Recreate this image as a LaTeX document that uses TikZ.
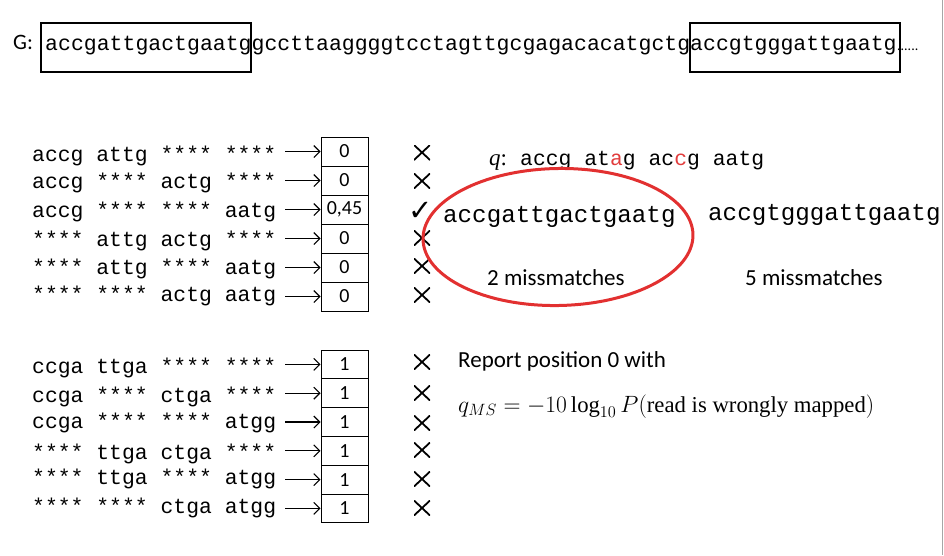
\documentclass[tikz,border=0pt]{standalone}
\usepackage{fontspec}
\usepackage{graphicx}
\setmainfont{Liberation Serif}
\setsansfont{Carlito}
\setmonofont{Liberation Mono}
\newfontfamily\symfont{DejaVu Sans}
\usetikzlibrary{arrows.meta,shapes.geometric}
\definecolor{ellred}{RGB}{226,48,48}
\definecolor{qred}{RGB}{225,60,60}
\tikzset{
  seq/.style={font=\fontsize{21.5pt}{24pt}\ttfamily, inner sep=0pt, anchor=base west},
  rowseq/.style={font=\fontsize{21.4pt}{24pt}\ttfamily, inner sep=0pt, anchor=base west},
  bigseq/.style={font=\fontsize{24.2pt}{26pt}\ttfamily, inner sep=0pt, anchor=base west},
  gbox/.style={draw, line width=1.6pt, minimum width=210pt, minimum height=49pt, inner sep=0pt},
  cell/.style={draw, line width=0.9pt, minimum width=47pt, inner sep=0pt, font=\fontsize{20pt}{22pt}\sffamily},
  arr/.style={-{Straight Barb[length=6pt,width=12pt]}, line width=1.1pt},
  xmark/.style={minimum width=16pt, minimum height=15pt, inner sep=0pt,
    path picture={\draw[line width=1.8pt] (path picture bounding box.north west) -- (path picture bounding box.south east)
      (path picture bounding box.south west) -- (path picture bounding box.north east);}},
  lbl/.style={font=\fontsize{23pt}{26pt}\sffamily, inner sep=0pt, anchor=base west},
}
\begin{document}
\begin{tikzpicture}[x=1pt,y=-1pt]
\useasboundingbox (0,0) rectangle (944,555);
% right border
\draw[gray!70, line width=1pt] (942.5,0) -- (942.5,555);

% genome line
\node[lbl, font=\fontsize{22pt}{24pt}\sffamily] (G) at (13,49) {G:};
\node[seq] (g) at (45,50) {accgattgactgaatggccttaaggggtcctagttgcgagacacatgctgaccgtgggattgaatg};
\node[inner sep=0pt, anchor=base west, font=\fontsize{14pt}{16pt}\sffamily] (dots) at (g.base east) {......};
\node[gbox] (b1) at (146,47.5) {};
\node[gbox] (b2) at (795,47.5) {};

% group 1
\foreach \i/\txt/\yb/\val/\yx in {
  1/{accg attg **** ****}/161/0/152.5,
  2/{accg **** actg ****}/188/0/181,
  3/{accg **** **** aatg}/217/{0,45}/0,
  4/{**** attg actg ****}/246/0/238,
  5/{**** attg **** aatg}/274/0/266,
  6/{**** **** actg aatg}/301/0/295}{
  \pgfmathsetmacro{\yc}{137+29*(\i-0.5)}
  \node[rowseq] (t\i) at (32,\yb) {\txt};
  \node[cell, minimum height=29pt] (c\i) at (344.5,\yc) {\val};
  \coordinate (s\i) at (285,\yc);
  \draw[arr] (s\i) -- (c\i.west);
  \ifnum\i=3\else
    \node[xmark] (x\i) at (422,\yx) {};
  \fi
}
\node[inner sep=0pt, font=\fontsize{29pt}{30pt}\symfont] (chk) at (421,211) {✓};

% group 2
\foreach \i/\txt/\yb/\yx in {
  1/{ccga ttga **** ****}/373/362,
  2/{ccga **** ctga ****}/402/393,
  3/{ccga **** **** atgg}/428/423,
  4/{**** ttga ctga ****}/459/450,
  5/{**** ttga **** atgg}/484/479,
  6/{**** **** ctga atgg}/513/508}{
  \pgfmathsetmacro{\yc}{350+28.8*(\i-0.5)}
  \node[rowseq] (u\i) at (32,\yb) {\txt};
  \node[cell, minimum height=28.8pt] (d\i) at (344.5,\yc) {1};
  \coordinate (r\i) at (285,\yc);
  \draw[arr] (r\i) -- (d\i.west);
  \node[xmark] (y\i) at (422,\yx) {};
}

% query
\node[inner sep=0pt, anchor=base west, font=\fontsize{23pt}{26pt}\selectfont] (qlab) at (489,165) {\textit{q}:};
\node[rowseq] (q) at (520,165) {accg at{\color{qred}a}g ac{\color{qred}c}g aatg};

% candidate sequences
\node[bigseq] (m1) at (443,222) {accgattgactgaatg};
\node[bigseq] (m2) at (708,220) {accgtgggattgaatg};
\node[lbl] (mm1) at (487,285) {2 missmatches};
\node[lbl] (mm2) at (745,285) {5 missmatches};
\node[draw=ellred, line width=3pt, ellipse, inner sep=0pt, minimum width=270pt, minimum height=137pt, rotate=1] (ell) at (558,237) {};

% report
\node[lbl] (rep) at (458,367) {Report position 0 with};
\node[inner sep=0pt, anchor=base west] (form) at (458,412) {\resizebox{416pt}{!}{\fontsize{20pt}{24pt}\selectfont $q_{MS} = -10\log_{10} P(\mbox{read is wrongly mapped})$}};
\end{tikzpicture}
\end{document}
